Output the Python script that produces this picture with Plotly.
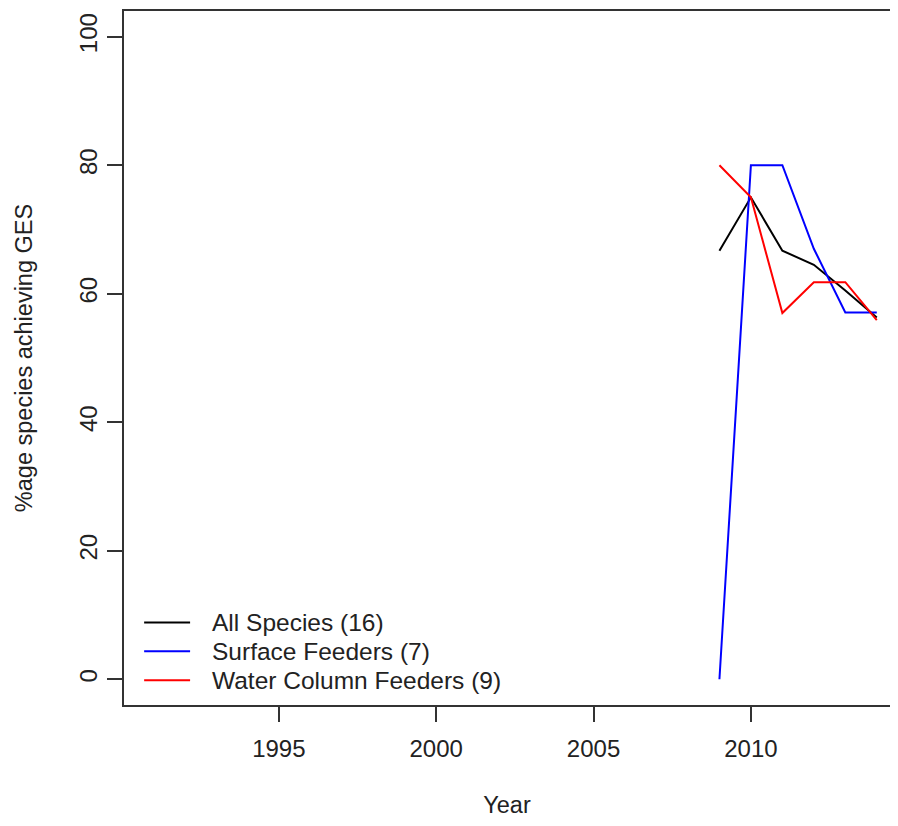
import plotly.graph_objects as go

years = [2009, 2010, 2011, 2012, 2013, 2014]
all_species = [66.7, 75.0, 66.7, 64.5, 60.5, 56.3]
surface_feeders = [0.0, 80.0, 80.0, 67.0, 57.1, 57.1]
water_column = [80.0, 75.0, 57.0, 61.8, 61.8, 55.9]
names = ["All Species (16)", "Surface Feeders (7)", "Water Column Feeders (9)"]
colors = ["black", "#0000FF", "#FF0000"]
x_ticks = [1995, 2000, 2005, 2010]
y_ticks = [0, 20, 40, 60, 80, 100]

FONT = "Liberation Sans, Arial, sans-serif"
TXT = "#222222"
fig = go.Figure()
for vals, nm, col in zip([all_species, surface_feeders, water_column], names, colors):
    fig.add_trace(go.Scatter(x=years, y=vals, mode="lines", name=nm,
                             line=dict(color=col, width=2), showlegend=False))

# legend drawn as annotations + short line shapes (R style, no box)
leg_rows_y = [8.85, 4.35, -0.15]
for nm, col, yy in zip(names, colors, leg_rows_y):
    fig.add_shape(type="line", xref="x", yref="y", x0=1990.72, x1=1992.18,
                  y0=yy, y1=yy, line=dict(color=col, width=2))
    fig.add_annotation(x=1992.81, y=yy, xref="x", yref="y", text=nm,
                       showarrow=False, xanchor="left", yanchor="middle",
                       font=dict(family=FONT, size=24.5, color=TXT))

fig.update_layout(
    width=882, height=810,
    margin=dict(l=116, r=0, t=3, b=113),
    paper_bgcolor="white", plot_bgcolor="white",
    font=dict(family=FONT, size=24, color=TXT),
    showlegend=False,
    xaxis=dict(range=[1990.08, 2014.42], tickvals=x_ticks, showgrid=False,
               zeroline=False, showline=True, linecolor="#333333", linewidth=2,
               mirror=True, ticks="outside", ticklen=15, tickwidth=2,
               tickcolor="#333333", ticklabelstandoff=6,
               tickfont=dict(size=24),
               title=dict(text="Year", standoff=38, font=dict(size=23.5))),
    yaxis=dict(range=[-4, 104], tickvals=y_ticks, showgrid=False,
               zeroline=False, showline=True, linecolor="#333333", linewidth=2,
               mirror=False, ticks="outside", ticklen=15, tickwidth=2,
               tickcolor="#333333", tickangle=-90, ticklabelstandoff=0,
               tickfont=dict(size=24),
               title=dict(text="%age species achieving GES", standoff=36,
                          font=dict(size=23.5))),
)
fig.write_html("out.html")
